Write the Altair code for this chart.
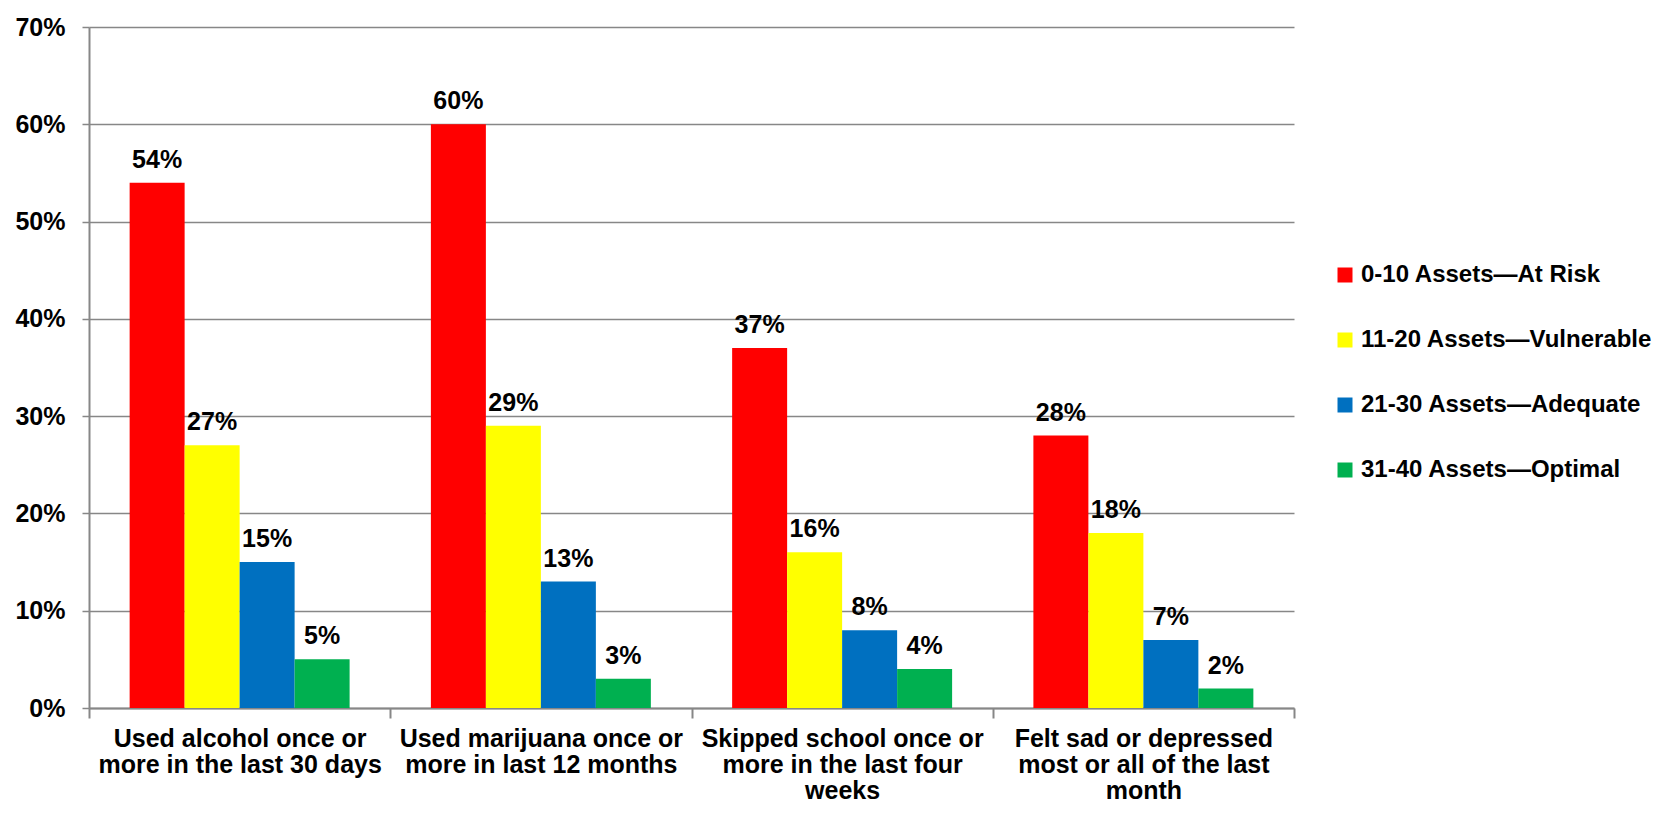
import altair as alt
import pandas as pd

categories = [
    "Used alcohol once or|more in the last 30 days",
    "Used marijuana once or|more in last 12 months",
    "Skipped school once or|more in the last four|weeks",
    "Felt sad or depressed|most or all of the last|month",
]
series = [
    "0-10 Assets\u2014At Risk",
    "11-20 Assets\u2014Vulnerable",
    "21-30 Assets\u2014Adequate",
    "31-40 Assets\u2014Optimal",
]
at_risk = [54, 60, 37, 28]
vulnerable = [27, 29, 16, 18]
adequate = [15, 13, 8, 7]
optimal = [5, 3, 4, 2]
colors = ["#FF0000", "#FFFF00", "#0070C0", "#00B050"]
y_ticks = [0, 0.1, 0.2, 0.3, 0.4, 0.5, 0.6, 0.7]

rows = []
for s, vals in zip(series, [at_risk, vulnerable, adequate, optimal]):
    for c, v in zip(categories, vals):
        rows.append({"category": c, "series": s, "value": v / 100})
df = pd.DataFrame(rows)

FONT = "Liberation Sans"
GRAY = "#878787"

base = alt.Chart(df).encode(
    x=alt.X(
        "category:N",
        sort=categories,
        scale=alt.Scale(paddingInner=0, paddingOuter=0),
        axis=alt.Axis(
            title=None,
            labelAngle=0,
            labelExpr="split(datum.label, '|')",
            tickBand="extent",
            domainColor=GRAY,
            domainWidth=2,
            tickColor=GRAY,
            tickWidth=2,
            tickSize=10,
            labelPadding=8,
            labelFont=FONT,
            labelFontSize=25,
            labelFontWeight="bold",
            labelColor="#000000",
            labelLineHeight=26,
            labelBaseline="top",
            labelLimit=600,
        ),
    ),
    xOffset=alt.XOffset(
        "series:N",
        sort=series,
        scale=alt.Scale(paddingInner=0, paddingOuter=0.739),
    ),
)

bars = base.mark_bar(strokeWidth=0).encode(
    y=alt.Y(
        "value:Q",
        scale=alt.Scale(domain=[0, 0.7], nice=False),
        axis=alt.Axis(
            title=None,
            values=y_ticks,
            format=".0%",
            grid=True,
            gridColor=GRAY,
            gridWidth=1.5,
            domainColor=GRAY,
            domainWidth=2,
            tickColor=GRAY,
            tickWidth=1.5,
            tickSize=7,
            labelPadding=17,
            labelFont=FONT,
            labelFontSize=25,
            labelFontWeight="bold",
            labelColor="#000000",
        ),
    ),
    color=alt.Color(
        "series:N",
        sort=series,
        scale=alt.Scale(domain=series, range=colors),
        legend=alt.Legend(
            title=None,
            orient="none",
            legendX=1244,
            legendY=236,
            direction="vertical",
            symbolType="square",
            symbolSize=225,
            symbolStrokeWidth=0,
            symbolOpacity=1,
            labelFont=FONT,
            labelFontSize=24,
            labelFontWeight="bold",
            labelColor="#000000",
            labelOffset=4,
            labelLimit=600,
            rowPadding=41,
        ),
    ),
)

labels = base.mark_text(
    baseline="alphabetic",
    align="center",
    dy=-15,
    font=FONT,
    fontSize=25,
    fontWeight="bold",
    color="#000000",
).encode(
    y=alt.Y("value:Q"),
    text=alt.Text("value:Q", format=".0%"),
)

chart = (
    alt.layer(bars, labels)
    .properties(
        width=1205,
        height=681,
        padding={"left": 81, "top": 19, "right": 364, "bottom": 97},
        autosize=alt.AutoSizeParams(type="none"),
        background="#FFFFFF",
    )
    .configure_view(stroke=None)
)

chart.save("out.html", embed_options={"renderer": "svg", "actions": False})
